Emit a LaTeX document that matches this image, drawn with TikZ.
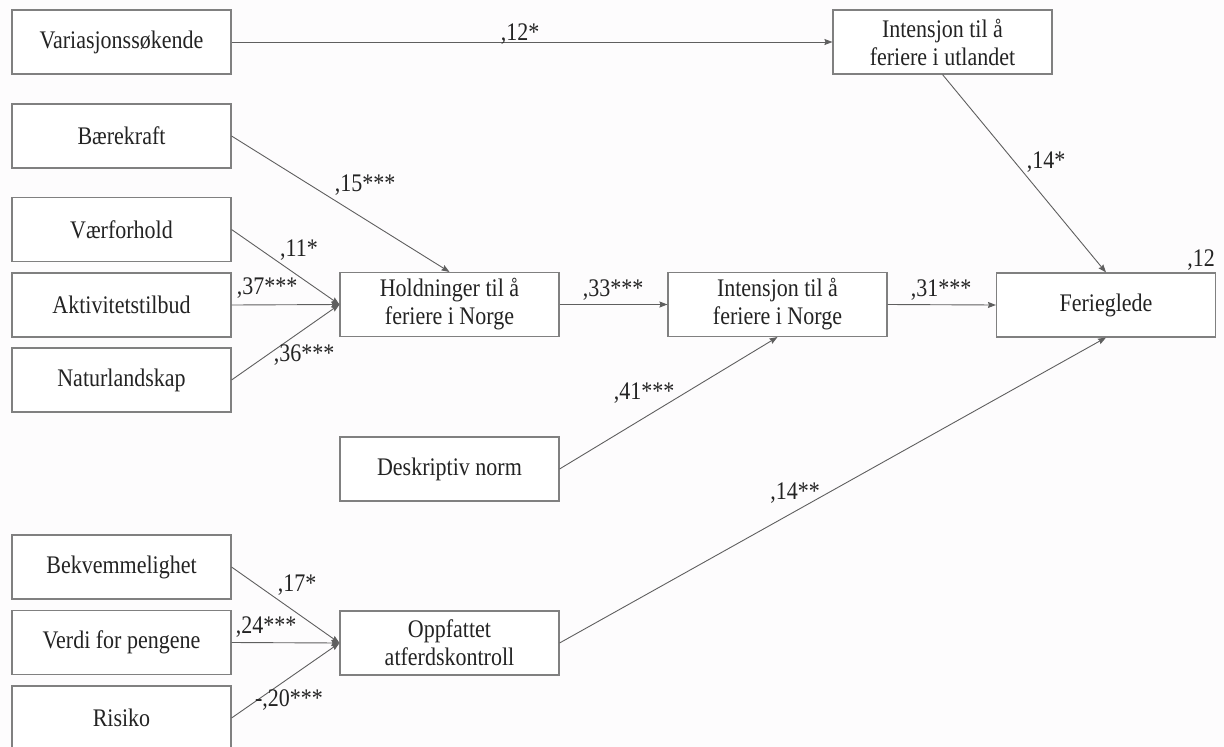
\documentclass[tikz,border=0pt]{standalone}
\usepackage{fontspec}
\setmainfont{Liberation Serif}
\usetikzlibrary{arrows.meta}
\definecolor{bg}{RGB}{253,252,253}
\definecolor{boxline}{RGB}{128,128,128}
\definecolor{conn}{RGB}{95,95,95}
\definecolor{txt}{RGB}{35,35,35}
\newcommand\tall[1]{\scalebox{1}[1.15]{#1}}
\tikzset{
  box/.style={draw=boxline, line width=1.1pt, fill=white, inner sep=0pt,
    minimum width=219pt, minimum height=64pt, align=center, text=txt,
    font=\fontsize{22}{28}\selectfont},
  conn/.style={draw=conn, line width=0.9pt, -{Stealth[length=8pt,width=6pt,inset=1pt]}},
  lab/.style={inner sep=0pt, text=txt, font=\fontsize{22}{26}\selectfont}
}
\begin{document}
\begin{tikzpicture}[x=1pt,y=-1pt]
\clip (0,0) rectangle (1224,747);
\fill[bg] (0,0) rectangle (1224,747);
% left column
\node[box] (var) at (121.5,42) {\tall{Variasjonssøkende}};
\node[box] (baer) at (121.5,136) {\tall{Bærekraft}};
\node[box] (vaer) at (121.5,229.5) {\tall{Værforhold}};
\node[box] (akt) at (121.5,305) {\tall{Aktivitetstilbud}};
\node[box] (nat) at (121.5,380) {\tall{Naturlandskap}};
\node[box] (bek) at (121.5,567) {\tall{Bekvemmelighet}};
\node[box] (verdi) at (121.5,642.5) {\tall{Verdi for pengene}};
\node[box] (ris) at (121.5,718) {\tall{Risiko}};
% middle / right
\node[box] (hold) at (449.5,304.5) {\tall{Holdninger til å}\\\tall{feriere i Norge}};
\node[box] (desk) at (449.5,469) {\tall{Deskriptiv norm}};
\node[box] (oppf) at (449.5,643) {\tall{Oppfattet}\\\tall{atferdskontroll}};
\node[box] (intn) at (777.5,304.5) {\tall{Intensjon til å}\\\tall{feriere i Norge}};
\node[box] (intu) at (942.5,42) {\tall{Intensjon til å}\\\tall{feriere i utlandet}};
\node[box] (fer) at (1106,305) {\tall{Ferieglede}};
% connectors
\draw[conn] (var.east) -- (intu.west);
\draw[conn] (intu.south) -- (fer.north);
\draw[conn] (baer.east) -- (hold.north);
\draw[conn] (vaer.east) -- (hold.west);
\draw[conn] (akt.east) -- (hold.west);
\draw[conn] (nat.east) -- (hold.west);
\draw[conn] (hold.east) -- (intn.west);
\draw[conn] (intn.east) -- (fer.west);
\draw[conn] (desk.east) -- (intn.south);
\draw[conn] (bek.east) -- (oppf.west);
\draw[conn] (verdi.east) -- (oppf.west);
\draw[conn] (ris.east) -- (oppf.west);
\draw[conn] (oppf.east) -- (fer.south);
% labels
\node[lab] (l1) at (520,34) {\tall{,12*}};
\node[lab] (l2) at (1046,162) {\tall{,14*}};
\node[lab] (l3) at (365,185) {\tall{,15***}};
\node[lab] (l4) at (299,250) {\tall{,11*}};
\node[lab] (l5) at (267,288) {\tall{,37***}};
\node[lab] (l6) at (304,355) {\tall{,36***}};
\node[lab] (l7) at (613,290) {\tall{,33***}};
\node[lab] (l8) at (941,290) {\tall{,31***}};
\node[lab] (l9) at (1201,260) {\tall{,12}};
\node[lab] (l10) at (644,393) {\tall{,41***}};
\node[lab] (l11) at (795,493) {\tall{,14**}};
\node[lab] (l12) at (297,585) {\tall{,17*}};
\node[lab] (l13) at (266,627) {\tall{,24***}};
\node[lab] (l14) at (289,700) {\tall{-,20***}};
\end{tikzpicture}
\end{document}
